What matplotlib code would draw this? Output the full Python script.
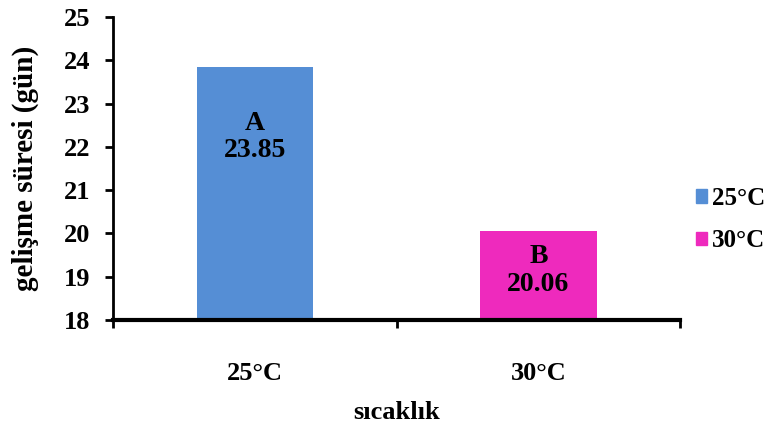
import matplotlib
matplotlib.use("Agg")
import matplotlib.pyplot as plt
from matplotlib.patches import Patch

# data
categories = ["25°C", "30°C"]
values = [23.85, 20.06]
letters = ["A", "B"]
colors = ["#558ed5", "#ee2abd"]
label_offsets = [-70, -40]  # px below bar top, as placed in the original

plt.rcParams["font.family"] = ["Liberation Serif", "DejaVu Serif"]
plt.rcParams["font.weight"] = "bold"

fig = plt.figure(figsize=(7.73, 4.30), dpi=100)
ax = fig.add_axes([0.146, 0.256, 0.734, 0.704])

x = list(range(len(categories)))
bars = ax.bar(x, [v - 18 for v in values], bottom=18, width=0.41, color=colors)

for b, v, let, off in zip(bars, values, letters, label_offsets):
    ax.annotate(f"{let}\n{v:.2f}", (b.get_x() + b.get_width() / 2, v),
                xytext=(0, off), textcoords="offset pixels",
                ha="center", va="center", fontsize=20, fontweight="bold",
                linespacing=1.15)

ax.set_ylim(18, 25)
ax.set_yticks(range(18, 26))
ax.set_xlim(-0.5, len(categories) - 0.5)
ax.set_xticks([i - 0.5 for i in range(len(categories) + 1)])
ax.set_xticklabels([])
ax.set_xticks(x, minor=True)
ax.set_xticklabels(categories, minor=True)
ax.tick_params(axis="x", which="minor", length=0, pad=30, labelsize=19)
ax.tick_params(axis="x", which="major", length=6, width=2)
ax.tick_params(axis="y", length=6, width=2, labelsize=19, pad=10)

for s in ["top", "right"]:
    ax.spines[s].set_visible(False)
ax.spines["left"].set_linewidth(2)
ax.spines["bottom"].set_linewidth(3)

ax.set_ylabel("gelişme süresi (gün)", fontsize=21, fontweight="bold", labelpad=18)
ax.set_xlabel("sıcaklık", fontsize=19, fontweight="bold", labelpad=12)

handles = [Patch(color=c) for c in colors]
fig.legend(handles, categories, loc="center left", bbox_to_anchor=(0.900, 0.489),
           frameon=False, fontsize=18, handlelength=0.45, handleheight=0.45,
           handletextpad=0.2, labelspacing=0.78, borderpad=0, borderaxespad=0)

fig.savefig("out.png", dpi=100)
